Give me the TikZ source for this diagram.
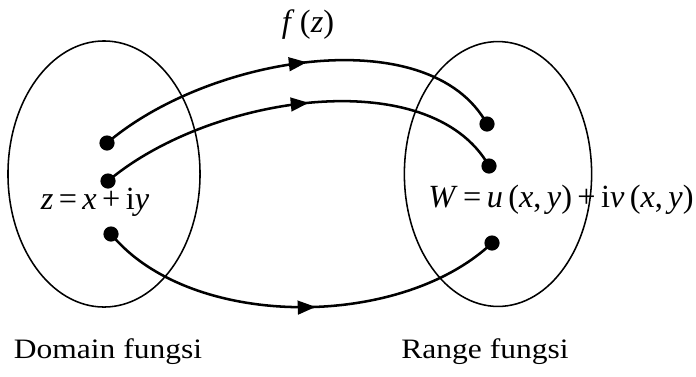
\documentclass[tikz,border=0pt]{standalone}
\usepackage{fontspec}
\setmainfont{Liberation Serif}
\newfontfamily\widefont[FakeStretch=1.12]{Liberation Serif}
\usetikzlibrary{shapes.geometric,decorations.markings,arrows.meta}
\begin{document}
\begin{tikzpicture}[x=0.025cm, y=-0.025cm,
  setbox/.style={draw, ellipse, line width=1.1pt, inner sep=0pt},
  pt/.style={circle, fill=black, inner sep=0pt, minimum size=0.38cm},
  maparrow/.style={line width=1.8pt, postaction={decorate},
    decoration={markings, mark=at position #1 with {\arrow{Triangle[length=0.45cm, width=0.34cm]}}}},
  mathlbl/.style={font=\fontsize{23}{26}\selectfont, inner sep=0pt},
  caption/.style={font=\widefont\fontsize{20}{24}\selectfont, inner sep=0pt}]
\useasboundingbox (0,0) rectangle (696,376);
% the two sets
\node[setbox, minimum width=4.8cm, minimum height=6.65cm] (dom) at (104,174) {};
\node[setbox, minimum width=4.68cm, minimum height=6.62cm] (ran) at (498,174) {};
% points
\node[pt] (l1) at (107,143) {};
\node[pt] (l2) at (108,181) {};
\node[pt] (l3) at (111,234) {};
\node[pt] (r1) at (487,124) {};
\node[pt] (r2) at (489,166) {};
\node[pt] (r3) at (492,243) {};
% mappings
\draw[maparrow=0.52] (l1.center) .. controls (210,55) and (430,20) .. (r1.center);
\draw[maparrow=0.52] (l2.center) .. controls (210,95) and (430,62) .. (r2.center);
\draw[maparrow=0.54] (l3.center) .. controls (190,330) and (400,330) .. (r3.center);
% labels
\node[mathlbl] (fz) at (308,25) {\textit{f}\,(\textit{z})};
\node[mathlbl] (zlbl) at (95,202) {\textit{z}\,=\,\textit{x}\,+\,i\textit{y}};
\node[mathlbl] (wlbl) at (561,200) {\textit{W}\,=\,\textit{u}\,(\textit{x},\,\textit{y})\,+\,i\textit{v}\,(\textit{x},\,\textit{y})};
\node[caption] (domlbl) at (108,352) {Domain fungsi};
\node[caption] (ranlbl) at (485,352) {Range fungsi};
\end{tikzpicture}
\end{document}
